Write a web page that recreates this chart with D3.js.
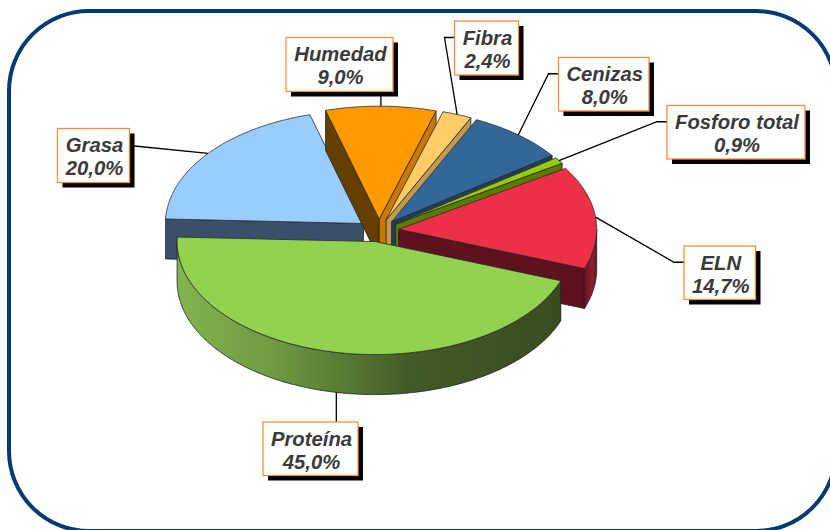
<!DOCTYPE html>
<html>
<head>
<meta charset="utf-8">
<style>
  html, body { margin: 0; padding: 0; background: #fff; }
  svg { display: block; }
  text { font-family: "Liberation Sans", Arial, sans-serif; font-weight: bold; font-style: italic; font-size: 20.3px; fill: #3a3a3a; text-anchor: middle; }
</style>
<script src="https://cdn.jsdelivr.net/npm/d3@7"></script>
</head>
<body>
<div id="chart"></div>
<script>
// Data, starting from the slice at the far left and going clockwise
const categories = ["Grasa", "Humedad", "Fibra", "Cenizas", "Fosforo total", "ELN", "Proteína"];
const values = [20.0, 9.0, 2.4, 8.0, 0.9, 14.7, 45.0];

const topColors = ["#99ccff", "#ff9900", "#ffcc66", "#336699", "#99cc00", "#ec3047", "#92d250"];
const startWallColors = ["#3b5068", "#634000", "#634000", "#1f3f5f", "#5c7a00", "#5e1220", "#3c5222"];
const endWallColors = ["#3b5068", "#c87800", "#c09a50", "#1f3f5f", "#5c7a00", "#5e1220", "#3c5222"];

// Label boxes, same order as categories: left, top, right, bottom
const labelBoxes = [
    [57.5, 128.5, 129.5, 182.5],
    [286, 37.5, 393, 91.5],
    [454.5, 21, 518.5, 75],
    [558.5, 57.5, 649, 111],
    [667, 105.5, 805, 159],
    [684, 246, 755.5, 299.5],
    [263, 422, 358, 475.5]
];

const width = 830, height = 530;
const center = { x: 379, y: 230.5 };
const rx = 198, ry = 113, depth = 40;
const explode = 0.1;
const firstAngle = 272.3 * Math.PI / 180;

const svg = d3.select("#chart").append("svg")
    .attr("width", width)
    .attr("height", height);

// Outer frame, runs a little past the window edge like the original
svg.append("rect")
    .attr("x", 9).attr("y", 11)
    .attr("width", 827).attr("height", 520)
    .attr("rx", 80).attr("ry", 80)
    .attr("fill", "#fff")
    .attr("stroke", "#033a70")
    .attr("stroke-width", 4);

// Shading along the front wall
const defs = svg.append("defs");
const protGrad = defs.append("linearGradient")
    .attr("id", "protWall")
    .attr("gradientUnits", "userSpaceOnUse")
    .attr("x1", 177).attr("x2", 561).attr("y1", 0).attr("y2", 0);
[[0, "#82b44e"], [0.25, "#6f9a42"], [0.42, "#5a7d34"], [0.6, "#425c28"], [1, "#384c20"]]
    .forEach(s => protGrad.append("stop").attr("offset", s[0]).attr("stop-color", s[1]));
const elnGrad = defs.append("linearGradient")
    .attr("id", "elnWall")
    .attr("gradientUnits", "userSpaceOnUse")
    .attr("x1", 584).attr("x2", 598).attr("y1", 0).attr("y2", 0);
[[0, "#6a1422"], [0.6, "#8a2030"], [1, "#5e1220"]]
    .forEach(s => elnGrad.append("stop").attr("offset", s[0]).attr("stop-color", s[1]));
const frontWallFill = { "Proteína": "url(#protWall)", "ELN": "url(#elnWall)" };

const color = d3.scaleOrdinal().domain(categories).range(topColors);

const pie = d3.pie()
    .sort(null)
    .value(d => d.value)
    .startAngle(firstAngle)
    .endAngle(firstAngle + 2 * Math.PI);

const slices = pie(categories.map((name, i) => ({ name, value: values[i], i })));

const line = d3.line();

// Point on the tilted rim, angle measured clockwise from the top
function rim(origin, angle, drop) {
    return [
        origin.x + rx * Math.sin(angle),
        origin.y - ry * Math.cos(angle) + (drop || 0)
    ];
}

function rimPoints(origin, a0, a1, drop) {
    const pts = d3.range(a0, a1, 0.01).map(a => rim(origin, a, drop));
    pts.push(rim(origin, a1, drop));
    return pts;
}

function drawWall(g, pts, fill) {
    g.append("path")
        .attr("d", line(pts) + "Z")
        .attr("fill", fill)
        .attr("stroke", "#1c1c1c")
        .attr("stroke-width", 0.8)
        .attr("stroke-linejoin", "round");
}

const leaders = [];

slices.forEach(s => {
    const i = s.data.i;
    const mid = (s.startAngle + s.endAngle) / 2;
    const origin = {
        x: center.x + explode * rx * Math.sin(mid),
        y: center.y - explode * ry * Math.cos(mid)
    };
    const apex = [origin.x, origin.y];
    const apexLow = [origin.x, origin.y + depth];
    const g = svg.append("g").attr("class", "slice");

    // Straight cut walls, only the ones facing the viewer
    if (Math.sin(s.startAngle) < 0) {
        const p = rim(origin, s.startAngle);
        drawWall(g, [apex, p, [p[0], p[1] + depth], apexLow], startWallColors[i]);
    }
    if (Math.sin(s.endAngle) > 0) {
        const p = rim(origin, s.endAngle);
        drawWall(g, [apex, p, [p[0], p[1] + depth], apexLow], endWallColors[i]);
    }

    // Curved front wall, only the part between 90 and 270 degrees
    for (const turn of [0, 2 * Math.PI]) {
        const a0 = Math.max(s.startAngle, Math.PI / 2 + turn);
        const a1 = Math.min(s.endAngle, 3 * Math.PI / 2 + turn);
        if (a1 > a0) {
            const upper = rimPoints(origin, a0, a1);
            const lower = rimPoints(origin, a0, a1, depth).reverse();
            drawWall(g, upper.concat(lower), frontWallFill[s.data.name] || startWallColors[i]);
        }
    }

    // Top face
    g.append("path")
        .attr("d", line([apex].concat(rimPoints(origin, s.startAngle, s.endAngle))) + "Z")
        .attr("fill", color(s.data.name))
        .attr("stroke", "#2a2a2a")
        .attr("stroke-width", 0.8)
        .attr("stroke-linejoin", "round");

    // Leader ends on the rim at the middle of the slice, lower edge if it is at the front
    const inFront = Math.cos(mid) < 0 && Math.abs(Math.sin(mid)) < 0.5;
    leaders.push(rim(origin, mid, inFront ? depth : 0));
});

// Leader lines
const labels = svg.append("g");
categories.forEach((name, i) => {
    const b = labelBoxes[i];
    const end = leaders[i];
    let pts;
    if (name === "Humedad" || name === "Proteína") {
        // straight up or down into the box
        pts = [[end[0], name === "Humedad" ? b[3] : b[1]], end];
    } else if (name === "Grasa") {
        pts = [[b[2], (b[1] + b[3]) / 2 - 10], end];
    } else {
        const yMid = (b[1] + b[3]) / 2 - 10.5;
        pts = [[b[0], yMid], [b[0] - 10, yMid], end];
    }
    labels.append("path")
        .attr("d", line(pts))
        .attr("fill", "none")
        .attr("stroke", "#000")
        .attr("stroke-width", 1.3);
});

// Label boxes with hard shadow
categories.forEach((name, i) => {
    const b = labelBoxes[i];
    const cx = (b[0] + b[2]) / 2 + 1;
    labels.append("rect")
        .attr("x", b[0] + 5).attr("y", b[1] + 5)
        .attr("width", b[2] - b[0]).attr("height", b[3] - b[1])
        .attr("fill", "#000");
    labels.append("rect")
        .attr("x", b[0]).attr("y", b[1])
        .attr("width", b[2] - b[0]).attr("height", b[3] - b[1])
        .attr("fill", "#fff")
        .attr("stroke", "#ff8c42")
        .attr("stroke-width", 1.3);
    labels.append("text").attr("x", cx).attr("y", b[1] + 23.5).text(name);
    labels.append("text").attr("x", cx).attr("y", b[1] + 46.5)
        .text(values[i].toFixed(1).replace(".", ",") + "%");
});
</script>
</body>
</html>
